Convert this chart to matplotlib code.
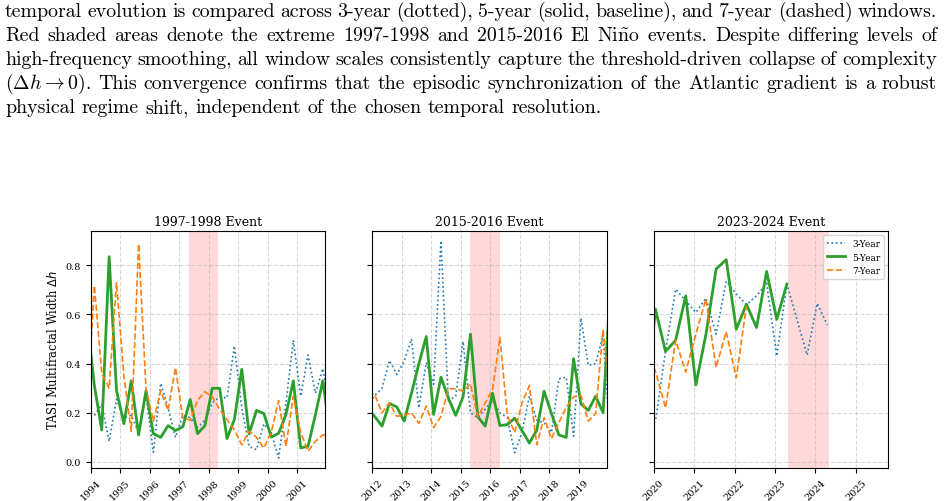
import numpy as np
import matplotlib.pyplot as plt

# caption text above the figure (justified like the paper)
caption_lines = [
    "temporal evolution is compared across 3-year (dotted), 5-year (solid, baseline), and 7-year (dashed) windows.",
    r"Red shaded areas denote the extreme 1997-1998 and 2015-2016 El $\mathrm{Ni\tilde{n}o}$ events. Despite differing levels of",
    "high-frequency smoothing, all window scales consistently capture the threshold-driven collapse of complexity",
    r"($\Delta{h}\rightarrow{0}$). This convergence confirms that the episodic synchronization of the Atlantic gradient is a robust",
    "physical regime shift, independent of the chosen temporal resolution.",
]

titles = ["1997-1998 Event", "2015-2016 Event", "2023-2024 Event"]
events = [(1997.33, 1998.33), (2015.33, 2016.33), (2023.33, 2024.33)]
xlims = [(1994, 2001.96), (2012, 2019.96), (2020, 2025.8)]

# quarterly sampling of the rolling-window estimate
t_9798 = np.arange(1993.875, 2002.2, 0.25)
dh3_9798 = [0.21, 0.19, 0.234, 0.084, 0.255, 0.18, 0.19, 0.12, 0.27, 0.04, 0.32, 0.22,
            0.10, 0.19, 0.18, 0.14, 0.17, 0.24, 0.265, 0.26, 0.472, 0.22, 0.063, 0.05,
            0.155, 0.12, 0.016, 0.24, 0.495, 0.268, 0.435, 0.28, 0.38, 0.2]
dh5_9798 = [0.58, 0.31, 0.13, 0.835, 0.29, 0.156, 0.33, 0.11, 0.29, 0.115, 0.10, 0.148,
            0.128, 0.143, 0.254, 0.115, 0.148, 0.30, 0.30, 0.095, 0.173, 0.377, 0.114, 0.21,
            0.197, 0.102, 0.116, 0.193, 0.33, 0.057, 0.064, 0.193, 0.33, 0.12]
dh7_9798 = [0.22, 0.717, 0.36, 0.30, 0.73, 0.35, 0.125, 0.887, 0.30, 0.166, 0.29, 0.21,
            0.384, 0.18, 0.17, 0.25, 0.286, 0.265, 0.214, 0.173, 0.13, 0.07, 0.125, 0.10,
            0.057, 0.12, 0.25, 0.064, 0.268, 0.12, 0.044, 0.084, 0.11, 0.11]

t_1516 = np.arange(2011.833, 2020.1, 0.25)
dh3_1516 = [0.23, 0.27, 0.30, 0.413, 0.356, 0.41, 0.50, 0.22, 0.404, 0.316, 0.90, 0.248,
            0.268, 0.49, 0.20, 0.18, 0.215, 0.25, 0.20, 0.18, 0.038, 0.12, 0.268, 0.17,
            0.16, 0.12, 0.338, 0.345, 0.105, 0.585, 0.393, 0.40, 0.515, 0.08]
dh5_1516 = [0.22, 0.185, 0.146, 0.238, 0.224, 0.166, 0.28, 0.40, 0.51, 0.193, 0.345, 0.26,
            0.19, 0.265, 0.52, 0.184, 0.146, 0.28, 0.148, 0.152, 0.178, 0.128, 0.077, 0.13,
            0.288, 0.197, 0.11, 0.10, 0.42, 0.236, 0.21, 0.268, 0.20, 0.72]
dh7_1516 = [0.28, 0.275, 0.20, 0.24, 0.186, 0.19, 0.20, 0.157, 0.228, 0.14, 0.185, 0.298,
            0.298, 0.288, 0.318, 0.185, 0.24, 0.295, 0.507, 0.19, 0.12, 0.24, 0.31, 0.07,
            0.18, 0.095, 0.16, 0.222, 0.265, 0.27, 0.166, 0.197, 0.54, 0.27]

t3_2324 = np.arange(2019.792, 2024.3, 0.25)
dh3_2324 = [0.15, 0.165, 0.45, 0.703, 0.656, 0.608, 0.667, 0.52, 0.735, 0.683, 0.64, 0.676,
            0.727, 0.431, 0.724, 0.58, 0.435, 0.645, 0.558]
t5_2324 = np.arange(2019.792, 2023.3, 0.25)
dh5_2324 = [0.2, 0.622, 0.45, 0.495, 0.676, 0.313, 0.52, 0.785, 0.823, 0.54, 0.642, 0.547,
            0.775, 0.58, 0.724]
t7_2324 = np.arange(2019.792, 2022.3, 0.25)
dh7_2324 = [0.45, 0.37, 0.22, 0.495, 0.366, 0.52, 0.663, 0.384, 0.53, 0.343, 0.635]

series = [
    ((t_9798, dh3_9798), (t_9798, dh5_9798), (t_9798, dh7_9798)),
    ((t_1516, dh3_1516), (t_1516, dh5_1516), (t_1516, dh7_1516)),
    ((t3_2324, dh3_2324), (t5_2324, dh5_2324), (t7_2324, dh7_2324)),
]

plt.rcParams['font.family'] = 'serif'
plt.rcParams['font.serif'] = ['DejaVu Serif']

fig, axes = plt.subplots(1, 3, figsize=(9.45, 5.02), dpi=100, sharey=True)
fig.subplots_adjust(left=0.096, right=0.940, bottom=0.066, top=0.538, wspace=0.2)

for i, ax in enumerate(axes):
    s3, s5, s7 = series[i]
    ax.axvspan(events[i][0], events[i][1], color='red', alpha=0.15, lw=0)
    ax.plot(s3[0], s3[1], ':', color='C0', lw=1.2, label='3-Year')
    ax.plot(s5[0], s5[1], '-', color='C2', lw=2.0, label='5-Year')
    ax.plot(s7[0], s7[1], '--', color='C1', lw=1.2, label='7-Year')
    ax.set_xlim(*xlims[i])
    ax.set_xticks(range(int(xlims[i][0]), int(xlims[i][1]) + 1))
    ax.tick_params(axis='x', labelrotation=45, labelsize=7)
    ax.tick_params(axis='y', labelsize=7)
    ax.set_title(titles[i], fontsize=9, pad=4)
    ax.grid(True, linestyle='--', alpha=0.5)

axes[0].set_ylim(-0.024, 0.94)
axes[0].set_yticks([0.0, 0.2, 0.4, 0.6, 0.8])
axes[0].set_ylabel(r'TASI Multifractal Width $\Delta h$', fontsize=8.3)
axes[2].legend(loc='upper right', fontsize=6.5)

# justified caption, one text per word
cap_size = 14.3
renderer = fig.canvas.get_renderer()
W, H = fig.bbox.width, fig.bbox.height
x_left, x_right = 5, 937
baselines = [17, 41, 65, 89, 113]
for n, line in enumerate(caption_lines):
    words = line.split(' ')
    texts = [fig.text(0, 1 - baselines[n] / H, w, fontsize=cap_size, family='cmr10',
                      math_fontfamily='cm', va='baseline') for w in words]
    widths = [t.get_window_extent(renderer).width for t in texts]
    if n < len(caption_lines) - 1:
        gap = (x_right - x_left - sum(widths)) / (len(words) - 1)
    else:
        gap = 0.333 * cap_size * 100 / 72
    x = x_left
    for t, w in zip(texts, widths):
        t.set_x(x / W)
        x += w + gap

fig.savefig('out.png', dpi=100)
